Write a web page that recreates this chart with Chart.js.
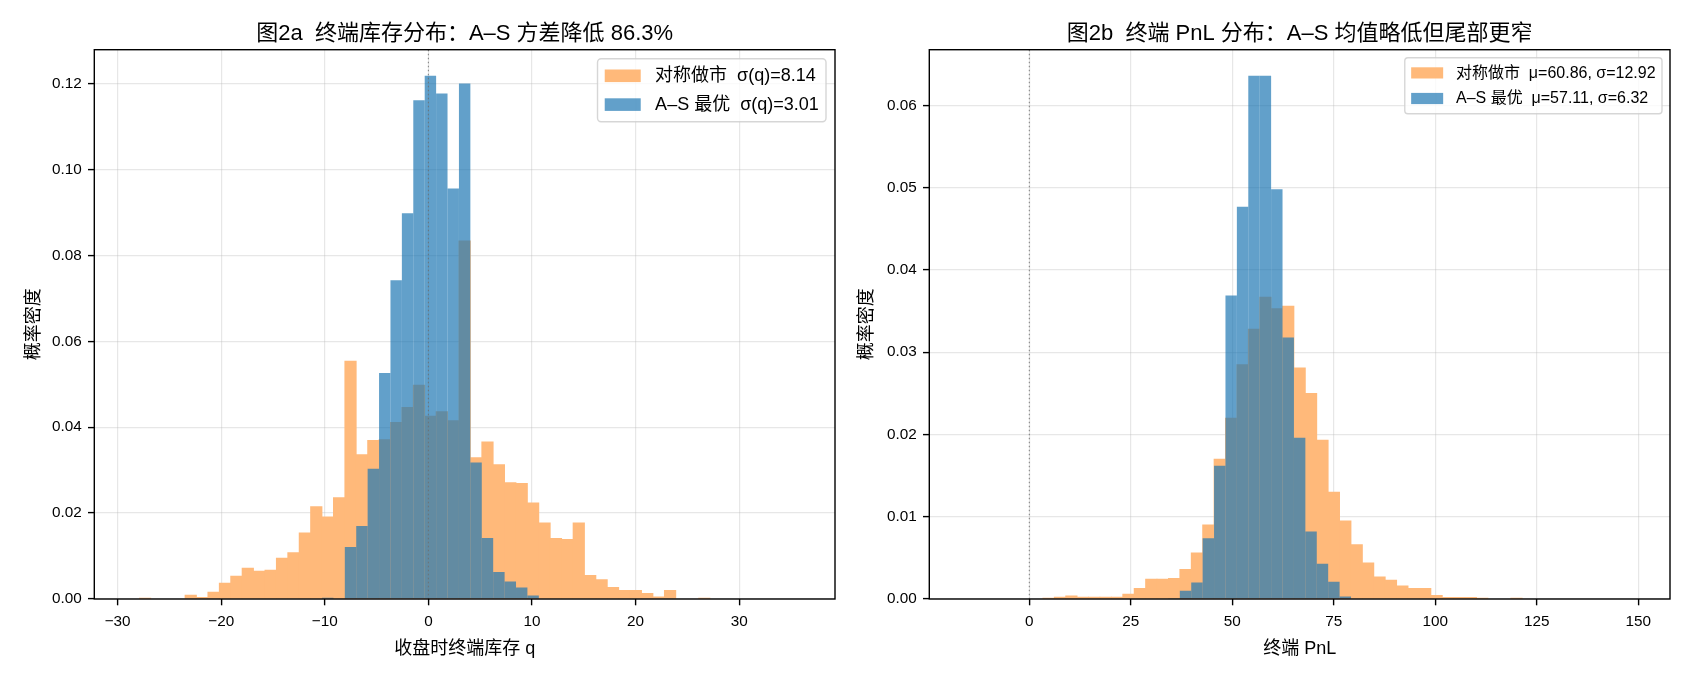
<!DOCTYPE html>
<html lang="zh-CN">
<head>
<meta charset="UTF-8">
<title>图2 终端库存与 PnL 分布</title>
<script src="https://cdn.jsdelivr.net/npm/chart.js@4"></script>
<style>
  html, body { margin: 0; padding: 0; background: #fff; }
  .wrap { position: relative; width: 1690px; height: 676px; }
  .panel { position: absolute; top: 0; width: 845px; height: 676px; }
</style>
</head>
<body>
<div class="wrap">
  <div class="panel" style="left:0"><canvas id="invChart"></canvas></div>
  <div class="panel" style="left:845px"><canvas id="pnlChart"></canvas></div>
</div>
<script>
// ---- 图2a：收盘时终端库存 q（59 个等宽 bin，密度）----
const invBinLo = -29, invBinHi = 36, invBinCount = 59;
const invSym = [
  0, 0.0002, 0, 0, 0, 0.0009, 0.0004, 0.0016, 0.0037, 0.0053,
  0.0072, 0.0065, 0.0067, 0.0095, 0.0108, 0.0154, 0.0215, 0.0191, 0.0236, 0.0554,
  0.0336, 0.0369, 0.0371, 0.0411, 0.0446, 0.0498, 0.0426, 0.0436, 0.0415, 0.0834,
  0.0329, 0.0366, 0.0313, 0.0271, 0.0269, 0.0224, 0.0177, 0.0141, 0.0139, 0.0177,
  0.0055, 0.0045, 0.0027, 0.0020, 0.0020, 0.0013, 0.0005, 0.0020, 0, 0,
  0.0002, 0, 0, 0, 0, 0, 0, 0, 0
];
const invAS = [
  0, 0, 0, 0, 0, 0, 0, 0, 0, 0,
  0, 0, 0, 0, 0, 0, 0, 0.0003, 0, 0.0121,
  0.0170, 0.0303, 0.0526, 0.0742, 0.0898, 0.1161, 0.1218, 0.1177, 0.0956, 0.1200,
  0.0318, 0.0142, 0.0063, 0.0041, 0.0027, 0.0008, 0, 0, 0, 0,
  0, 0, 0, 0, 0, 0, 0, 0, 0, 0,
  0, 0, 0, 0, 0, 0, 0, 0, 0
];
const invXTicks = [-30, -20, -10, 0, 10, 20, 30];
const invXTickLabels = ['−30', '−20', '−10', '0', '10', '20', '30'];
const invYTicks = [0, 0.02, 0.04, 0.06, 0.08, 0.10, 0.12];
const invYTickLabels = ['0.00', '0.02', '0.04', '0.06', '0.08', '0.10', '0.12'];
const invLegend = ['对称做市  σ(q)=8.14', 'A–S 最优  σ(q)=3.01'];

// ---- 图2b：终端 PnL ----
const pnlBinLo = -16.35, pnlBinHi = 149.55, pnlBinCount = 59;
const pnlSym = [
  0, 0, 0, 0, 0, 0, 0, 0.0001, 0.00024, 0.00037,
  0.00024, 0.00024, 0.00024, 0.00024, 0.0006, 0.0013, 0.0024, 0.0024, 0.0025, 0.0036,
  0.0056, 0.0090, 0.0170, 0.0220, 0.0285, 0.0328, 0.0367, 0.0353, 0.0356, 0.0281,
  0.0250, 0.0193, 0.0130, 0.0095, 0.0066, 0.0044, 0.0027, 0.0023, 0.0016, 0.0013,
  0.0013, 0.00045, 0.0002, 0.0002, 0.0002, 0.0001, 0, 0, 0.0001, 0,
  0, 0, 0, 0, 0, 0, 0, 0, 0
];
const pnlAS = [
  0, 0, 0, 0, 0, 0, 0, 0, 0, 0,
  0, 0, 0, 0, 0, 0, 0, 0, 0.0001, 0.0010,
  0.0020, 0.0074, 0.0162, 0.0369, 0.0477, 0.0636, 0.0636, 0.0498, 0.0318, 0.0196,
  0.0082, 0.0043, 0.0021, 0.0003, 0, 0, 0, 0, 0, 0,
  0, 0, 0, 0, 0, 0, 0, 0, 0, 0,
  0, 0, 0, 0, 0, 0, 0, 0, 0
];
const pnlXTicks = [0, 25, 50, 75, 100, 125, 150];
const pnlXTickLabels = ['0', '25', '50', '75', '100', '125', '150'];
const pnlYTicks = [0, 0.01, 0.02, 0.03, 0.04, 0.05, 0.06];
const pnlYTickLabels = ['0.00', '0.01', '0.02', '0.03', '0.04', '0.05', '0.06'];
const pnlLegend = ['对称做市  μ=60.86, σ=12.92', 'A–S 最优  μ=57.11, σ=6.32'];

// 橙色 = #ff7f0e 以 0.55 透明度叠在白底上（预混成不透明色，避免相邻柱缝）
const ORANGE = 'rgb(255,185,122)';
const BLUE = 'rgba(31,119,180,0.7)';
const FONT = '"Liberation Sans", "Noto Sans CJK SC", sans-serif';

Chart.defaults.font.family = FONT;
Chart.defaults.color = '#000';

function binCenters(lo, hi, n) {
  const w = (hi - lo) / n;
  return Array.from({ length: n }, (_, i) => lo + w * (i + 0.5));
}

function toPoints(centers, vals) {
  return vals.map((v, i) => ({ x: centers[i], y: v === 0 ? null : v }));
}

// 标题、轴标签、图例、外框、x=0 虚线
const decorPlugin = {
  id: 'decor',
  afterDatasetsDraw(chart, args, o) {
    const ctx = chart.ctx, ca = chart.chartArea;
    const x0 = chart.scales.x.getPixelForValue(0);
    ctx.save();
    ctx.strokeStyle = 'rgba(110,110,110,0.8)';
    ctx.lineWidth = 1.1;
    ctx.setLineDash([1.6, 2.4]);
    ctx.beginPath();
    ctx.moveTo(x0, ca.top);
    ctx.lineTo(x0, ca.bottom);
    ctx.stroke();
    ctx.restore();
  },
  afterDraw(chart, args, o) {
    const ctx = chart.ctx, ca = chart.chartArea;
    ctx.save();
    // 外框
    ctx.strokeStyle = '#000';
    ctx.lineWidth = 1.4;
    ctx.strokeRect(ca.left, ca.top, ca.right - ca.left, ca.bottom - ca.top);

    const cx = (ca.left + ca.right) / 2;
    ctx.fillStyle = '#000';
    ctx.textAlign = 'center';
    ctx.textBaseline = 'alphabetic';
    ctx.font = `22px ${FONT}`;
    ctx.fillText(o.title, cx, ca.top - 10.2);

    ctx.font = `18px ${FONT}`;
    ctx.fillText(o.xLabel, cx, 653.5);

    ctx.save();
    ctx.translate(o.yLabelX, (ca.top + ca.bottom) / 2);
    ctx.rotate(-Math.PI / 2);
    ctx.textBaseline = 'middle';
    ctx.fillText(o.yLabel, 0, 0);
    ctx.restore();

    // 图例（右上）
    const F = o.legendSize;
    ctx.font = `${F}px ${FONT}`;
    const tw = Math.max(...o.legend.map(t => ctx.measureText(t).width));
    const bw = 0.4 * F + 2 * F + 0.8 * F + tw + 0.4 * F;
    const bh = 3.5 * F;
    const bx = ca.right - 0.5 * F - bw;
    const by = ca.top + 0.5 * F;
    ctx.beginPath();
    ctx.roundRect(bx, by, bw, bh, 0.2 * F);
    ctx.fillStyle = 'rgba(255,255,255,0.8)';
    ctx.fill();
    ctx.strokeStyle = 'rgba(204,204,204,0.8)';
    ctx.lineWidth = 1.4;
    ctx.stroke();
    const colors = [ORANGE, BLUE];
    o.legend.forEach((t, i) => {
      const ry = by + 0.95 * F + i * 1.6 * F;
      ctx.fillStyle = colors[i];
      ctx.fillRect(bx + 0.4 * F, ry - 0.35 * F, 2 * F, 0.7 * F);
      ctx.fillStyle = '#000';
      ctx.textAlign = 'left';
      ctx.textBaseline = 'middle';
      ctx.fillText(t, bx + 3.2 * F, ry + 0.5);
    });
    ctx.restore();
  }
};

function makeChart(id, cfg) {
  const centers = binCenters(cfg.lo, cfg.hi, cfg.n);
  const span = cfg.hi - cfg.lo;
  const yMax = 1.05 * Math.max(...cfg.sym, ...cfg.as);
  const grid = {
    color: 'rgba(176,176,176,0.3)',
    lineWidth: 1.2,
    offset: false,
    tickColor: '#000',
    tickLength: 6.3,
    tickWidth: 1.4
  };
  return new Chart(document.getElementById(id), {
    type: 'bar',
    data: {
      datasets: [
        {
          label: cfg.legend[0], data: toPoints(centers, cfg.sym),
          backgroundColor: ORANGE, order: 2, inflateAmount: 0.4
        },
        {
          label: cfg.legend[1], data: toPoints(centers, cfg.as),
          backgroundColor: BLUE, order: 1, inflateAmount: 0
        }
      ]
    },
    options: {
      responsive: true,
      maintainAspectRatio: false,
      animation: false,
      devicePixelRatio: 1,
      layout: { padding: { top: 49.7, right: cfg.padRight, left: 0, bottom: 0 } },
      datasets: {
        bar: { grouped: false, barPercentage: 1, categoryPercentage: 1, borderWidth: 0 }
      },
      plugins: {
        legend: { display: false },
        tooltip: { enabled: false },
        decor: {
          title: cfg.title, xLabel: cfg.xLabel, yLabel: '概率密度',
          yLabelX: cfg.yLabelX, legend: cfg.legend, legendSize: cfg.legendSize
        }
      },
      scales: {
        x: {
          type: 'linear',
          min: cfg.lo - 0.05 * span,
          max: cfg.hi + 0.05 * span,
          offset: false,
          z: 1,
          grid: grid,
          border: { display: false },
          afterBuildTicks: s => { s.ticks = cfg.xTicks.map(v => ({ value: v })); },
          afterFit: s => { s.height = 77; },
          ticks: {
            font: { size: 15.3 }, padding: 7.7, maxRotation: 0, autoSkip: false,
            callback: (v, i) => cfg.xTickLabels[i]
          }
        },
        y: {
          type: 'linear',
          min: 0,
          max: yMax,
          z: 1,
          grid: grid,
          border: { display: false },
          afterBuildTicks: s => { s.ticks = cfg.yTicks.map(v => ({ value: v })); },
          afterFit: s => { s.width = cfg.yAxisWidth; },
          ticks: {
            font: { size: 15.3 }, padding: 6.3, autoSkip: false,
            callback: (v, i) => cfg.yTickLabels[i]
          }
        }
      }
    },
    plugins: [decorPlugin]
  });
}

makeChart('invChart', {
  lo: invBinLo, hi: invBinHi, n: invBinCount, sym: invSym, as: invAS,
  xTicks: invXTicks, xTickLabels: invXTickLabels, yTicks: invYTicks, yTickLabels: invYTickLabels,
  legend: invLegend, legendSize: 18,
  title: '图2a  终端库存分布：A–S 方差降低 86.3%', xLabel: '收盘时终端库存 q',
  yAxisWidth: 94.3, padRight: 10, yLabelX: 34.5
});

makeChart('pnlChart', {
  lo: pnlBinLo, hi: pnlBinHi, n: pnlBinCount, sym: pnlSym, as: pnlAS,
  xTicks: pnlXTicks, xTickLabels: pnlXTickLabels, yTicks: pnlYTicks, yTickLabels: pnlYTickLabels,
  legend: pnlLegend, legendSize: 16,
  title: '图2b  终端 PnL 分布：A–S 均值略低但尾部更窄', xLabel: '终端 PnL',
  yAxisWidth: 84.3, padRight: 20, yLabelX: 22
});
</script>
</body>
</html>
